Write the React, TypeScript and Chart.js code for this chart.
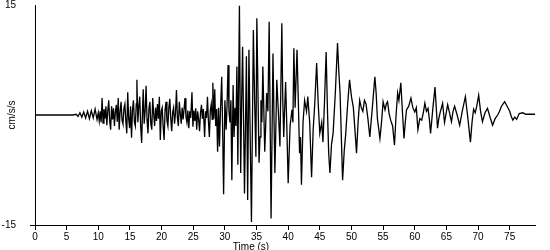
import React, { useEffect, useRef } from 'react';
import { Chart, registerables } from 'chart.js';

Chart.register(...registerables);

// [time (s), acceleration (cm/s/s)] read from the record
const preEvent: [number, number][] = [
  [0, 0], [6.0, 0], [6.5, 0.1], [6.8, -0.2], [7.1, 0.3], [7.4, -0.3], [7.7, 0.4],
  [8.0, -0.4], [8.3, 0.5], [8.6, -0.5], [8.9, 0.6], [9.2, -0.4], [9.5, 0.8], [9.8, -0.6],
];

const earlyShaking: [number, number][] = [
  [10.0, 0.3], [10.15, -0.8], [10.3, 0.5], [10.45, -1.0], [10.6, 2.3], [10.75, -1.1],
  [10.9, 0.8], [11.05, -0.5], [11.2, 1.2], [11.35, -1.4], [11.5, 0.6], [11.65, 2.0],
  [11.8, -0.8], [11.95, -2.0], [12.1, 1.2], [12.25, -0.6], [12.4, 0.9], [12.55, -1.5],
  [12.7, 0.4], [12.85, 1.4], [13.0, -0.9], [13.15, 2.3], [13.3, -2.0], [13.45, 0.5],
  [13.6, 1.8], [13.75, -0.7], [13.9, -1.2], [14.05, 0.9], [14.2, 1.5], [14.35, -0.8],
  [14.5, -2.5], [14.65, 3.1], [14.8, -0.5], [14.95, -1.8], [15.1, 1.2], [15.25, -3.1],
  [15.4, 0.6], [15.55, 2.0], [15.7, -0.9], [15.85, -1.5], [16.0, 1.5], [16.1, 4.8],
  [16.25, -1.0], [16.4, 1.2], [16.55, 2.5], [16.7, -1.6], [16.85, -3.8], [17.0, 1.0],
  [17.1, 3.5], [17.25, -1.2], [17.4, 0.5], [17.55, 4.0], [17.7, -0.6], [17.85, -2.5],
  [18.0, 0.8], [18.15, 1.8], [18.3, -1.2], [18.45, -2.0], [18.6, 2.3], [18.75, 0.2],
  [18.9, -1.5], [19.05, 1.0], [19.2, -0.8], [19.35, 1.5], [19.5, -0.5], [19.65, 2.5],
  [19.8, -3.4], [19.95, 0.5], [20.1, 1.0], [20.25, -1.6], [20.4, -3.4], [20.55, 0.7],
  [20.7, 1.8], [20.85, -0.8], [21.0, -1.5], [21.15, 1.0], [21.3, 2.2], [21.45, -0.5],
  [21.6, -2.2], [21.75, 0.4], [21.9, 1.0], [22.05, -1.2], [22.2, 0.3], [22.35, 3.4],
  [22.5, -0.4], [22.65, -1.5], [22.8, 1.8], [22.95, 0.2], [23.1, -1.2], [23.25, 1.0],
  [23.4, -0.6], [23.55, 0.8], [23.7, 2.3], [23.85, -0.2], [24.0, -1.0], [24.15, 0.6],
  [24.3, -1.8], [24.45, 0.5], [24.6, -0.4], [24.8, 3.1], [24.95, -1.6], [25.1, 0.6],
  [25.25, -0.8], [25.4, 0.9], [25.55, -2.0], [25.7, 0.5], [25.85, -0.6], [26.0, -2.2],
  [26.15, 0.3], [26.3, 1.4], [26.45, -0.5], [26.6, 0.8], [26.8, -3.0], [26.95, 0.5],
  [27.1, -0.4], [27.25, 2.5], [27.4, -0.8], [27.55, -3.0], [27.7, 0.6], [27.85, 1.5],
  [28.0, -0.6], [28.1, 4.4], [28.25, -0.5], [28.4, 3.5], [28.55, -1.5], [28.7, 0.8],
  [28.85, -5.0], [29.0, 1.0], [29.15, -4.3], [29.3, 0.5], [29.5, 5.2], [29.65, -2.0],
  [29.8, -10.8],
];

const strongMotion: [number, number][] = [
  [30.0, 2.0], [30.2, -2.0], [30.35, 1.5], [30.5, 6.8], [30.65, 0.5], [30.8, -1.0],
  [30.95, 2.0], [31.1, -8.9], [31.3, 4.1], [31.45, -3.0], [31.6, 1.0], [31.75, -1.5],
  [31.9, 6.6], [32.05, -6.8], [32.3, 14.9], [32.5, -7.9], [32.65, 2.0], [32.8, 9.3],
  [33.1, -10.7], [33.25, -2.0], [33.4, 8.0], [33.6, -11.6], [33.8, 8.9], [34.0, -3.0],
  [34.2, -14.6], [34.5, 11.6], [34.7, 2.0], [34.9, -5.7], [35.05, 13.2], [35.4, -6.5],
  [35.55, -3.0], [35.7, 2.0], [35.85, -1.0], [36.0, 6.6], [36.3, -5.0], [36.45, -1.5],
  [36.6, 3.0], [36.8, 0.5], [37.0, 12.7], [37.3, -14.1], [37.6, 8.4], [37.9, -7.9],
  [38.05, -2.0], [38.2, 4.8], [38.45, 0.5], [38.7, -4.3], [39.0, 12.5], [39.15, 2.0],
  [39.3, -3.0], [39.45, 1.0], [39.6, 4.5], [39.8, -2.0], [40.0, -9.3], [40.3, -1.5],
  [40.6, 0.7], [40.75, -1.0], [40.9, 9.1], [41.1, 1.0], [41.4, 8.9], [41.6, 2.0],
  [41.8, -5.2], [41.95, -3.0], [42.1, -9.5], [42.35, -1.0], [42.6, 2.0], [42.9, 0.5],
  [43.1, 2.5], [43.4, -1.0], [43.7, -8.5], [43.95, -2.0], [44.2, 1.5], [44.5, 7.1],
  [44.75, 1.5], [45.0, -2.5], [45.3, -1.0], [45.5, -3.7], [45.75, 2.0], [46.0, 8.6],
  [46.2, 1.0], [46.4, -5.2], [46.6, -7.9], [46.85, -4.0], [47.1, -2.5], [47.45, 3.0],
  [47.8, 9.8], [48.0, 6.0], [48.2, 3.0], [48.6, -8.9], [48.85, -5.0], [49.1, -2.5],
  [49.4, 1.5], [49.7, 4.8],
];

const coda: [number, number][] = [
  [50.0, 2.5], [50.3, 1.0], [50.55, -2.0], [50.8, -5.2], [51.05, -1.0], [51.3, 2.0],
  [51.55, 1.0], [51.8, 0.5], [52.05, 2.0], [52.3, 1.5], [52.6, -0.5], [52.9, -3.0],
  [53.3, 1.0], [53.7, 5.2], [53.9, 3.0], [54.1, -0.5], [54.5, -3.2], [54.75, -1.0],
  [55.0, 1.8], [55.3, 0.7], [55.5, 1.5], [55.7, 1.8], [55.95, 0.2], [56.2, -0.7],
  [56.5, -1.5], [56.8, -4.1], [57.05, 0.0], [57.3, 3.0], [57.5, 2.0], [57.8, 4.4],
  [58.05, 0.5], [58.3, -3.2], [58.5, -1.0], [58.7, 0.7], [59.05, 1.2], [59.4, 2.3],
  [59.7, 1.0], [60.0, 0.4], [60.25, 1.0], [60.5, -2.0], [60.8, -0.5], [61.1, -0.7],
  [61.35, 0.3], [61.6, 1.6], [61.85, 0.5], [62.1, 0.9], [62.3, -0.5], [62.5, -2.5],
  [62.85, 0.8], [63.2, 3.8], [63.4, 1.0], [63.6, -1.8], [63.8, -0.5], [64.0, 0.3],
  [64.4, 1.6], [64.7, -1.0], [64.95, 0.2], [65.2, 1.4], [65.5, 0.3], [65.8, -0.9],
  [66.05, 0.5], [66.3, 1.2], [66.7, 0.0], [67.1, -1.4], [67.5, 0.5], [68.0, 2.5],
  [68.4, -0.5], [68.8, -3.7], [69.05, -1.0], [69.3, 0.8], [69.55, 0.3], [69.8, 1.2],
  [70.1, 2.7], [70.4, 0.5], [70.7, -0.9], [71.1, 0.3], [71.5, 0.9], [71.9, -0.3],
  [72.3, -1.4], [72.7, -0.5], [73.1, 0.0], [73.4, 0.5], [73.7, 1.2], [74.2, 1.8],
  [74.6, 1.2], [75.0, 0.5], [75.25, -0.2], [75.5, -0.7], [75.8, -0.3], [76.1, -0.6],
  [76.5, 0.2], [77.1, 0.3], [77.5, 0.1], [79.0, 0.1],
];

const xTicks = [0, 5, 10, 15, 20, 25, 30, 35, 40, 45, 50, 55, 60, 65, 70, 75];
const yTicks = [-15, 15];
const xTitle = 'Time (s)';
const yTitle = 'cm/s/s';

const FONT = '"Liberation Sans", Arial, sans-serif';

export default function App() {
  const ref = useRef<HTMLCanvasElement | null>(null);

  useEffect(() => {
    if (!ref.current) return;
    const trace = [...preEvent, ...earlyShaking, ...strongMotion, ...coda];
    const xTitlePlugin = {
      id: 'xTitlePlugin',
      afterDraw(chart: any) {
        const { ctx, chartArea } = chart;
        ctx.save();
        ctx.font = `10px ${FONT}`;
        ctx.fillStyle = '#000';
        ctx.textAlign = 'center';
        ctx.textBaseline = 'alphabetic';
        ctx.fillText(xTitle, chartArea.left + 216, 250);
        ctx.restore();
      },
    };
    const chart = new Chart(ref.current, {
      type: 'line',
      data: {
        datasets: [
          {
            data: trace.map(([t, v]) => ({ x: t, y: v })),
            borderColor: '#000',
            borderWidth: 1.3,
            pointRadius: 0,
            tension: 0,
            fill: false,
          },
        ],
      },
      options: {
        animation: false,
        responsive: false,
        events: [],
        layout: { padding: { top: 5, right: 15, left: 0, bottom: 0 } },
        plugins: { legend: { display: false }, tooltip: { enabled: false } },
        scales: {
          x: {
            type: 'linear',
            min: 0,
            max: 79,
            afterBuildTicks: (s: any) => {
              s.ticks = xTicks.map((v) => ({ value: v }));
            },
            afterFit: (s: any) => {
              s.height = 25;
              s.paddingLeft = 0;
              s.paddingRight = 0;
            },
            grid: { drawOnChartArea: false, drawTicks: true, tickLength: 5, color: '#000' },
            border: { color: '#000', width: 1 },
            ticks: {
              color: '#000',
              font: { family: FONT, size: 10 },
              padding: 1,
              maxRotation: 0,
              autoSkip: false,
            },
          },
          y: {
            type: 'linear',
            min: -15,
            max: 15,
            afterBuildTicks: (s: any) => {
              s.ticks = yTicks.map((v) => ({ value: v }));
            },
            afterFit: (s: any) => {
              s.width = 35;
              s.paddingTop = 0;
              s.paddingBottom = 0;
            },
            grid: {
              drawOnChartArea: false,
              drawTicks: true,
              tickLength: 5,
              color: (ctx: any) => (ctx.tick && ctx.tick.value === -15 ? '#000' : 'rgba(0,0,0,0)'),
            },
            border: { color: '#000', width: 1 },
            ticks: {
              color: '#000',
              font: { family: FONT, size: 10 },
              padding: 14,
              autoSkip: false,
            },
            title: {
              display: true,
              text: yTitle,
              color: '#000',
              font: { family: FONT, size: 10 },
              padding: { top: 6, bottom: 0 },
            },
          },
        },
      },
      plugins: [xTitlePlugin],
    });
    return () => chart.destroy();
  }, []);

  return (
    <div style={{ position: 'fixed', left: 0, top: 0, width: 550, height: 250, background: '#fff' }}>
      <canvas ref={ref} width={550} height={250} />
    </div>
  );
}
